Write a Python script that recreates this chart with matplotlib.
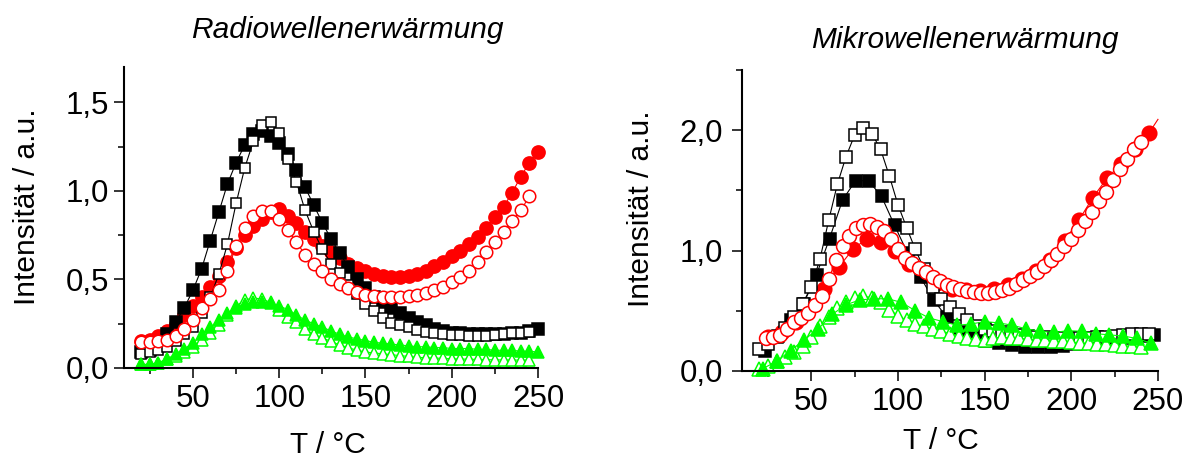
import numpy as np
import matplotlib.pyplot as plt
from matplotlib.ticker import MultipleLocator, FuncFormatter

plt.rcParams['font.family'] = ['Liberation Sans', 'DejaVu Sans']

# ---------------- Radiowellenerwaermung (left) ----------------
rad_T = list(range(20, 255, 5))          # 20 ... 250
rad_T2 = list(range(20, 250, 5))         # 20 ... 245

rad_sq_fill = [0.09, 0.10, 0.13, 0.19, 0.26, 0.34, 0.44, 0.56, 0.72, 0.88,
               1.04, 1.16, 1.26, 1.32, 1.34, 1.31, 1.27, 1.21, 1.12, 1.02,
               0.92, 0.82, 0.73, 0.65, 0.57, 0.50, 0.45, 0.40, 0.37, 0.34,
               0.31, 0.28, 0.26, 0.24, 0.22, 0.21, 0.20, 0.195, 0.19, 0.19,
               0.19, 0.19, 0.19, 0.195, 0.20, 0.21, 0.22]
rad_sq_open = [0.08, 0.09, 0.10, 0.12, 0.15, 0.19, 0.23, 0.31, 0.40, 0.53,
               0.70, 0.93, 1.13, 1.28, 1.37, 1.39, 1.33, 1.18, 1.05, 0.89,
               0.77, 0.67, 0.59, 0.535, 0.47, 0.42, 0.36, 0.32, 0.285, 0.255,
               0.24, 0.23, 0.215, 0.205, 0.195, 0.19, 0.185, 0.185, 0.18, 0.18,
               0.18, 0.185, 0.19, 0.195, 0.20, 0.205]
rad_ci_fill = [0.155, 0.16, 0.18, 0.21, 0.25, 0.30, 0.35, 0.40, 0.46, 0.52,
               0.60, 0.68, 0.75, 0.80, 0.84, 0.88, 0.90, 0.86, 0.82, 0.77,
               0.73, 0.69, 0.655, 0.62, 0.59, 0.565, 0.545, 0.53, 0.52, 0.515,
               0.515, 0.52, 0.53, 0.55, 0.575, 0.60, 0.63, 0.66, 0.70, 0.74,
               0.79, 0.85, 0.91, 0.99, 1.08, 1.16, 1.22]
rad_ci_open = [0.145, 0.145, 0.15, 0.16, 0.18, 0.22, 0.27, 0.34, 0.39, 0.44,
               0.55, 0.69, 0.79, 0.86, 0.885, 0.885, 0.84, 0.78, 0.71, 0.64,
               0.585, 0.545, 0.505, 0.475, 0.45, 0.43, 0.415, 0.405, 0.40, 0.40,
               0.40, 0.405, 0.415, 0.425, 0.44, 0.46, 0.485, 0.515, 0.55, 0.60,
               0.655, 0.71, 0.77, 0.83, 0.89, 0.97]
rad_tr_fill = [0.02, 0.02, 0.03, 0.05, 0.08, 0.11, 0.14, 0.19, 0.23, 0.27,
               0.31, 0.34, 0.36, 0.37, 0.37, 0.365, 0.35, 0.33, 0.30, 0.27,
               0.25, 0.23, 0.21, 0.19, 0.175, 0.165, 0.155, 0.145, 0.14, 0.135,
               0.13, 0.125, 0.12, 0.12, 0.115, 0.115, 0.11, 0.11, 0.11, 0.105,
               0.105, 0.10, 0.10, 0.10, 0.095, 0.095, 0.09]
rad_tr_open = [0.02, 0.02, 0.03, 0.05, 0.07, 0.09, 0.12, 0.16, 0.20, 0.24,
               0.30, 0.35, 0.385, 0.395, 0.39, 0.37, 0.33, 0.29, 0.26, 0.22,
               0.19, 0.17, 0.15, 0.13, 0.115, 0.10, 0.09, 0.085, 0.08, 0.075,
               0.07, 0.065, 0.06, 0.058, 0.056, 0.054, 0.052, 0.05, 0.05, 0.048,
               0.047, 0.046, 0.045, 0.045, 0.044, 0.044]

# ---------------- Mikrowellenerwaermung (right) ----------------
mic_T_sq_fill = list(np.arange(23, 249, 7.5))
mic_sq_fill = [0.17, 0.29, 0.42, 0.56, 0.80, 1.10, 1.42, 1.58, 1.58, 1.45,
               1.21, 0.98, 0.78, 0.59, 0.45, 0.34, 0.28, 0.25, 0.23, 0.215,
               0.20, 0.20, 0.20, 0.21, 0.22, 0.23, 0.245, 0.26, 0.275, 0.29,
               0.30]
mic_T_sq_open = list(range(20, 250, 5))
mic_sq_open = [0.18, 0.22, 0.28, 0.36, 0.45, 0.56, 0.70, 0.93, 1.25, 1.55,
               1.78, 1.96, 2.02, 1.97, 1.84, 1.62, 1.38, 1.19, 1.01, 0.85,
               0.70, 0.60, 0.53, 0.47, 0.42, 0.37, 0.35, 0.33, 0.32, 0.31,
               0.30, 0.29, 0.28, 0.28, 0.27, 0.27, 0.27, 0.27, 0.27, 0.28,
               0.28, 0.29, 0.30, 0.31, 0.31, 0.31]
mic_T_ci_fill = list(np.linspace(25, 245, 28)) + [250]
mic_ci_fill = [0.28, 0.32, 0.41, 0.53, 0.68, 0.86, 1.01, 1.10, 1.07, 1.00,
               0.89, 0.80, 0.73, 0.685, 0.67, 0.665, 0.68, 0.715, 0.76, 0.83,
               0.92, 1.08, 1.25, 1.44, 1.60, 1.72, 1.84, 1.98, 2.09]
mic_T_ci_open = list(range(24, 244, 4))
mic_ci_open = [0.275, 0.28, 0.30, 0.35, 0.41, 0.44, 0.48, 0.545, 0.62, 0.76,
               0.92, 1.04, 1.12, 1.185, 1.215, 1.22, 1.20, 1.165, 1.10, 1.01,
               0.94, 0.895, 0.855, 0.82, 0.78, 0.745, 0.715, 0.695, 0.68, 0.665,
               0.655, 0.65, 0.65, 0.655, 0.67, 0.69, 0.725, 0.755, 0.785, 0.82,
               0.87, 0.925, 0.97, 1.035, 1.10, 1.17, 1.245, 1.32, 1.41, 1.49,
               1.585, 1.68, 1.76, 1.84, 1.90]
mic_T_tr_fill = list(range(22, 250, 8))
mic_tr_fill = [0.02, 0.08, 0.17, 0.26, 0.35, 0.47, 0.55, 0.59, 0.60, 0.60,
               0.57, 0.50, 0.44, 0.41, 0.38, 0.39, 0.41, 0.40, 0.38, 0.35,
               0.33, 0.32, 0.335, 0.33, 0.31, 0.30, 0.29, 0.27, 0.23]
mic_T_tr_open = list(range(20, 245, 5))
mic_tr_open = [0.02, 0.04, 0.08, 0.12, 0.16, 0.21, 0.28, 0.37, 0.45, 0.52,
               0.57, 0.61, 0.62, 0.61, 0.57, 0.51, 0.46, 0.42, 0.39, 0.37,
               0.35, 0.33, 0.31, 0.29, 0.275, 0.265, 0.26, 0.27, 0.28, 0.275,
               0.27, 0.265, 0.26, 0.255, 0.25, 0.245, 0.24, 0.235, 0.23, 0.225,
               0.22, 0.215, 0.21, 0.205, 0.20]

RED = '#ff0000'
GREEN = '#00ff00'


def series(ax, x, y, marker, color, filled, ms, lcolor=None, markevery=None):
    ax.plot(x, y, marker=marker, ms=ms, color=lcolor or color, lw=0.8,
            mfc=color if filled else 'white', mec=color, mew=1.1,
            markevery=markevery, clip_on=False)


def style_axes(ax, ymax, ymajor, yminor, ypad):
    ax.set_xlim(10, 250)
    ax.set_ylim(0, ymax)
    for s in ('top', 'right'):
        ax.spines[s].set_visible(False)
    for s in ('left', 'bottom'):
        ax.spines[s].set_linewidth(1.5)
    ax.xaxis.set_major_locator(MultipleLocator(50))
    ax.xaxis.set_minor_locator(MultipleLocator(25))
    ax.yaxis.set_major_locator(MultipleLocator(ymajor))
    ax.yaxis.set_minor_locator(MultipleLocator(yminor))
    ax.yaxis.set_major_formatter(FuncFormatter(lambda v, p: f'{v:.1f}'.replace('.', ',')))
    ax.tick_params(which='major', direction='out', length=7.5, width=1.1, labelsize=22.5)
    ax.tick_params(which='minor', direction='out', length=4.5, width=1.1)
    ax.tick_params(axis='x', pad=4)
    ax.tick_params(axis='y', pad=ypad)


fig = plt.figure(figsize=(11.84, 4.62), dpi=100)
ax1 = fig.add_axes([0.1047, 0.2035, 0.3497, 0.6515])
ax2 = fig.add_axes([0.6267, 0.197, 0.3513, 0.6515])

series(ax1, rad_T, rad_ci_fill, 'o', RED, True, 9.5)
series(ax1, rad_T, rad_sq_fill, 's', 'black', True, 8)
series(ax1, rad_T2, rad_sq_open, 's', 'black', False, 7.5)
series(ax1, rad_T2, rad_ci_open, 'o', RED, False, 9)
series(ax1, rad_T2, rad_tr_open, '^', GREEN, False, 8.5)
series(ax1, rad_T, rad_tr_fill, '^', GREEN, True, 8.5)
style_axes(ax1, 1.7, 0.5, 0.25, 3)

series(ax2, mic_T_ci_fill, mic_ci_fill, 'o', RED, True, 10.5, markevery=slice(0, 28))
series(ax2, mic_T_sq_fill, mic_sq_fill, 's', 'black', True, 8)
series(ax2, mic_T_sq_open, mic_sq_open, 's', 'black', False, 8)
series(ax2, mic_T_ci_open, mic_ci_open, 'o', RED, False, 10)
series(ax2, mic_T_tr_open, mic_tr_open, '^', GREEN, False, 9.5)
series(ax2, mic_T_tr_fill, mic_tr_fill, '^', GREEN, True, 9.5)
style_axes(ax2, 2.5, 1.0, 0.5, 6)

fig.text(0.293, 0.935, 'Radiowellenerwärmung', style='italic', fontsize=21.5,
         ha='center', va='center')
fig.text(0.815, 0.913, 'Mikrowellenerwärmung', style='italic', fontsize=21.5,
         ha='center', va='center')
fig.text(0.023, 0.552, 'Intensität / a.u.', rotation=90, fontsize=21.5,
         ha='center', va='center')
fig.text(0.541, 0.548, 'Intensität / a.u.', rotation=90, fontsize=21.5,
         ha='center', va='center')
fig.text(0.277, 0.036, 'T / °C', fontsize=21.5, ha='center', va='center')
fig.text(0.795, 0.045, 'T / °C', fontsize=21.5, ha='center', va='center')

fig.savefig('out.png', dpi=100)
